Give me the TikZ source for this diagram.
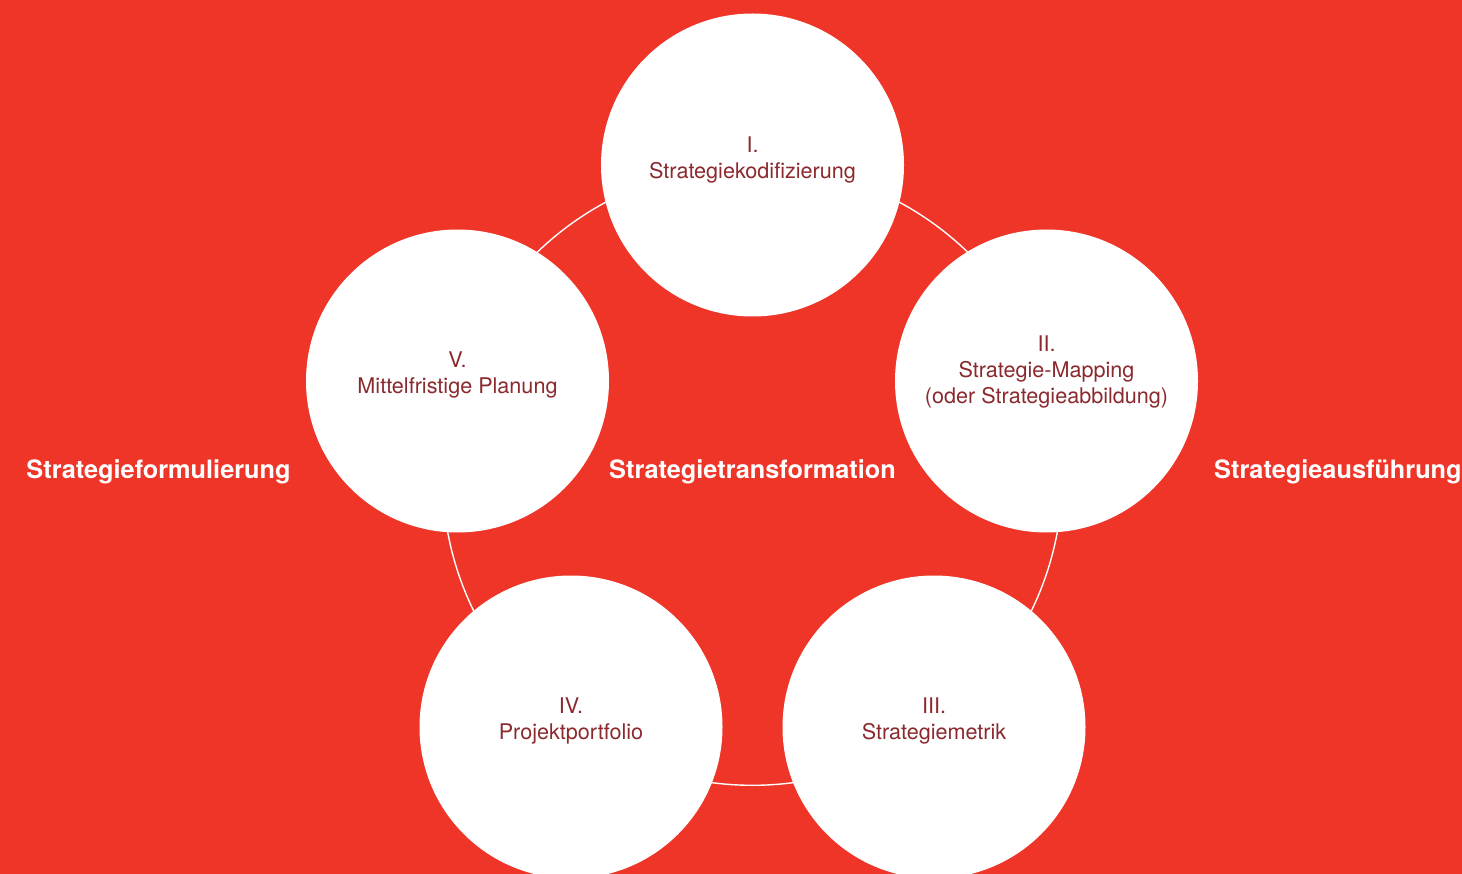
\documentclass[tikz,border=0pt]{standalone}
\usepackage{fontspec}
\setmainfont{TeX Gyre Heros}
\usetikzlibrary{positioning}
\definecolor{bgred}{RGB}{238,53,39}
\definecolor{txtred}{RGB}{139,42,46}

\begin{document}
\begin{tikzpicture}[x=1pt,y=1pt]
                \tikzstyle{every node}+=[inner sep=0pt]
                \tikzstyle{stage}=[circle,fill=white,minimum size=303pt]
                \tikzstyle{stagetext}=[align=center,text=txtred,font=\fontsize{21.6}{26}\selectfont]
                \tikzstyle{phase}=[text=white,font=\fontsize{25.3}{28}\bfseries]
                \useasboundingbox (0,0) rectangle (1462,-874);
                \clip (0,0) rectangle (1462,-874);
                \fill [bgred] (0,0) rectangle (1462,-874);
                % ring through the five stages
                \coordinate (mid) at (752.5,-475.3);
                \draw [white,line width=1.4pt] (mid) circle (310);
                % stages
                \node [stage] (s1) at (752.5,-165) {};
                \node [stage] (s2) at (1046.5,-381) {};
                \node [stage] (s3) at (934,-727) {};
                \node [stage] (s4) at (571,-727) {};
                \node [stage] (s5) at (457.5,-381) {};
                \node [stagetext] (t1) at ([yshift=5]s1.center) {I.\\Strategiekodifizierung};
                \node [stagetext] (t2) at ([yshift=9.5]s2.center) {II.\\Strategie-Mapping\\(oder Strategieabbildung)};
                \node [stagetext] (t3) at ([yshift=6.5]s3.center) {III.\\Strategiemetrik};
                \node [stagetext] (t4) at ([yshift=6.5]s4.center) {IV.\\Projektportfolio};
                \node [stagetext] (t5) at ([yshift=6.5]s5.center) {V.\\Mittelfristige Planung};
                % phases
                \node [phase] (formul) at (158.5,-471.5) {Strategieformulierung};
                \node [phase] (transf) at (752.5,-471.5) {Strategietransformation};
                \node [phase,anchor=west] (ausf) at (1214,-471.5) {Strategieausführung};
            \end{tikzpicture}
\end{document}
